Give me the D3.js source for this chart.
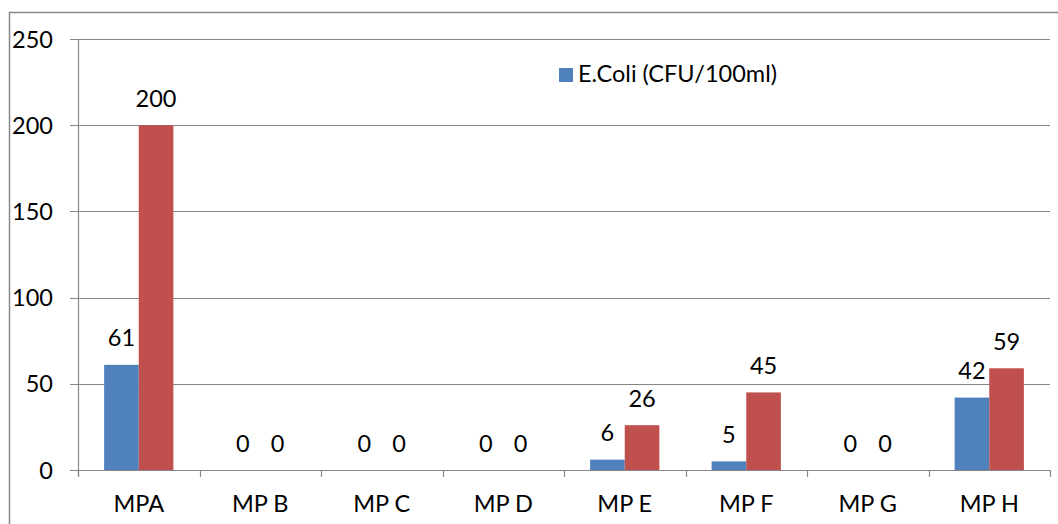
<!DOCTYPE html>
<html>
<head>
<meta charset="utf-8">
<script src="https://cdn.jsdelivr.net/npm/d3@7"></script>
<style>
html,body{margin:0;padding:0;background:#fff;}
svg{display:block;}
text{font-family:Lato, "Open Sans", sans-serif;fill:#000;}
</style>
</head>
<body>
<svg id="chart" width="1058" height="524"></svg>
<script>
const categories = ["MPA","MP B","MP C","MP D","MP E","MP F","MP G","MP H"];
const seriesNames = ["E.Coli (CFU/100ml)", "Series 2"];
const ecoli = [61,0,0,0,6,5,0,42];
const series2 = [200,0,0,0,26,45,0,59];
const yTicks = [0,50,100,150,200,250];
const colors = ["#4F81BD","#C0504D"];

(function(){
const svg = d3.select("#chart");
const W = 1058, H = 524;
const pLeft = 78, pRight = 1050, pTop = 39, pBottom = 470;
const fs = 23.5;

// outer frame
svg.append("rect").attr("x",9.5).attr("y",12.5).attr("width",W+10).attr("height",H+10)
  .attr("fill","none").attr("stroke","#888").attr("stroke-width",1.5);

const x = d3.scaleBand().domain(categories).range([pLeft,pRight]).paddingInner(0).paddingOuter(0);
const y = d3.scaleLinear().domain([0,250]).range([pBottom,pTop]);
const groupFrac = 0.57;
const xs = d3.scaleBand().domain([0,1]).range([0, x.bandwidth()*groupFrac]);
const groupOff = x.bandwidth()*(1-groupFrac)/2;

// gridlines
svg.append("g").selectAll("line").data(yTicks).join("line")
  .attr("x1",70).attr("x2",pRight).attr("y1",d=>Math.round(y(d))+0.5).attr("y2",d=>Math.round(y(d))+0.5)
  .attr("stroke","#878787").attr("stroke-width",1.2);

// y axis line
svg.append("line").attr("x1",pLeft+0.5).attr("x2",pLeft+0.5).attr("y1",pTop).attr("y2",pBottom+6)
  .attr("stroke","#878787").attr("stroke-width",1.2);

// y tick labels
svg.append("g").selectAll("text").data(yTicks).join("text")
  .attr("x",53).attr("y",d=>y(d)+8.5).attr("text-anchor","end").attr("font-size",fs).text(d=>d);

// category ticks
const tickXs = categories.map(c=>x(c)).concat([pRight]);
svg.append("g").selectAll("line").data(tickXs).join("line")
  .attr("x1",d=>Math.round(d)+0.5).attr("x2",d=>Math.round(d)+0.5).attr("y1",pBottom).attr("y2",pBottom+7)
  .attr("stroke","#878787").attr("stroke-width",1.2);

// category labels
svg.append("g").selectAll("text").data(categories).join("text")
  .attr("x",d=>x(d)+x.bandwidth()/2).attr("y",512).attr("text-anchor","middle").attr("font-size",fs).text(d=>d);

const data = [ecoli, series2];
data.forEach((vals,si)=>{
  const g = svg.append("g");
  g.selectAll("rect").data(vals).join("rect")
    .attr("x",(d,i)=>x(categories[i])+groupOff+xs(si))
    .attr("width",xs.bandwidth())
    .attr("y",d=>y(d))
    .attr("height",d=>y(0)-y(d))
    .attr("fill",colors[si]);
  g.selectAll("text").data(vals).join("text")
    .attr("x",(d,i)=>x(categories[i])+groupOff+xs(si)+xs.bandwidth()/2)
    .attr("y",d=>y(d)-18.5)
    .attr("text-anchor","middle").attr("font-size",fs).text(d=>d);
});

// legend
svg.append("rect").attr("x",559).attr("y",68).attr("width",14).attr("height",14).attr("fill",colors[0]);
svg.append("text").attr("x",578).attr("y",82).attr("font-size",fs).text(seriesNames[0]);
})();
</script>
</body>
</html>
